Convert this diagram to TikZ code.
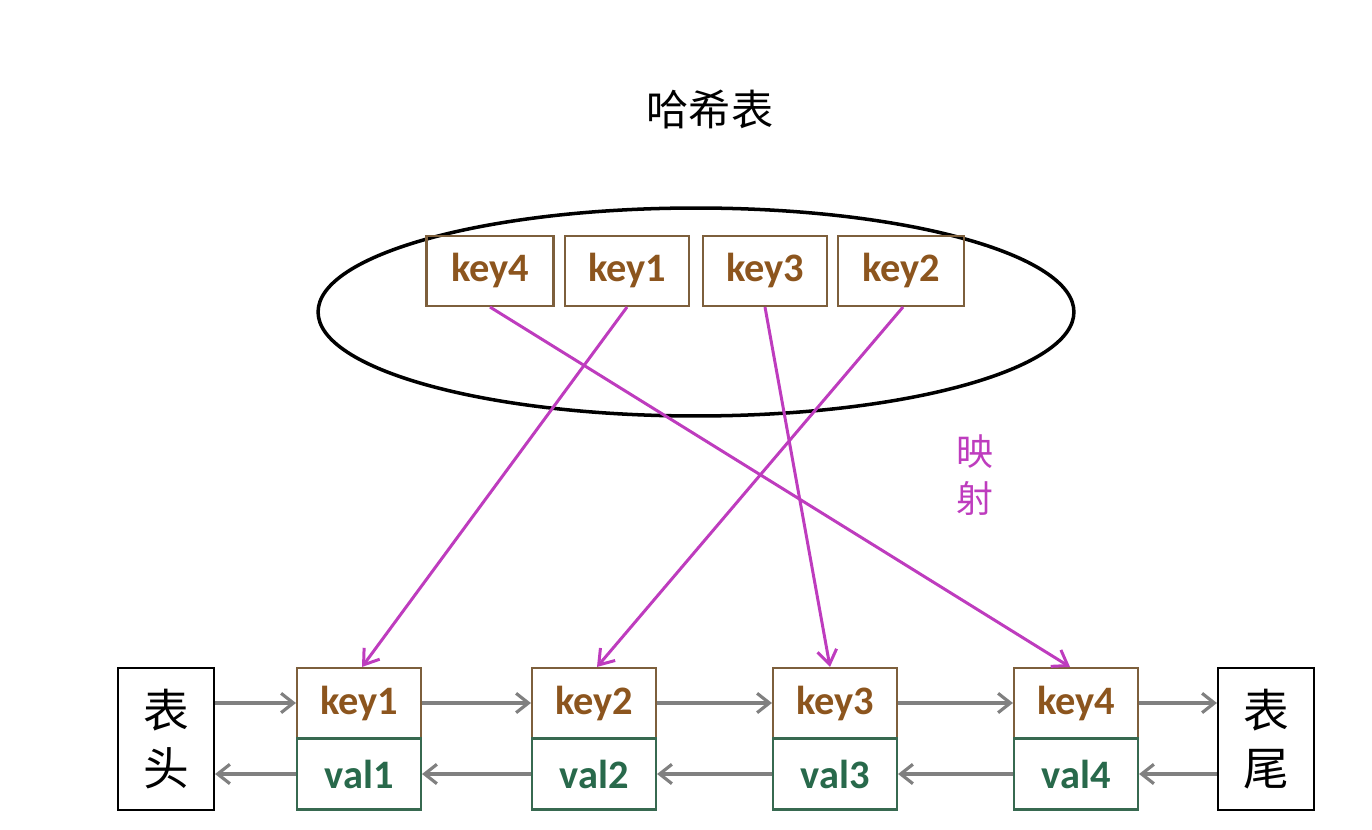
\documentclass[tikz,border=0pt]{standalone}
\usepackage{fontspec}
\setmainfont{Carlito}
\newfontfamily\cjk{Noto Sans CJK SC}
\usetikzlibrary{arrows.meta,shapes.geometric}
\definecolor{keybrown}{RGB}{140,85,30}
\definecolor{keyline}{RGB}{125,95,60}
\definecolor{valgreen}{RGB}{40,105,75}
\definecolor{valline}{RGB}{55,105,80}
\definecolor{mapmag}{RGB}{190,60,190}
\tikzset{
  keybox/.style={draw=keyline, line width=1.2pt, minimum width=2.48cm, minimum height=1.4cm,
    inner sep=0pt, text=keybrown, font=\fontsize{23}{26}\selectfont\bfseries},
  valbox/.style={draw=valline, line width=1.2pt, minimum width=2.48cm, minimum height=1.42cm,
    inner sep=0pt, text=valgreen, font=\fontsize{23}{26}\selectfont\bfseries},
  endbox/.style={draw, line width=1.2pt, minimum width=1.92cm, minimum height=2.84cm,
    inner sep=0pt, align=center, font=\cjk\fontsize{26}{33}\selectfont},
  link/.style={draw=gray, line width=1.8pt, -{Straight Barb[length=7pt,width=11pt]}},
  map/.style={draw=mapmag, line width=1.7pt, -{Straight Barb[length=8pt,width=11pt]}}
}
\begin{document}
\begin{tikzpicture}[x=0.02cm, y=-0.02cm]
  \useasboundingbox (0,0) rectangle (1372,830);
  % hash table
  \node[font=\cjk\fontsize{24}{28}\selectfont] (title) at (710,110) {哈希表};
  \node[draw, line width=2pt, ellipse, minimum width=15.12cm, minimum height=4.16cm] (table) at (696,312) {};
  \node[keybox, minimum width=2.54cm] (t4) at (490,271) {key4};
  \node[keybox] (t1) at (627,271) {key1};
  \node[keybox] (t3) at (765,271) {key3};
  \node[keybox, minimum width=2.52cm] (t2) at (901,271) {key2};
  % linked list
  \node[endbox] (head) at (166,739) {表\\头};
  \node[endbox] (tail) at (1266,739) {表\\尾};
  \node[keybox] (k1) at (359,703) {key1};
  \node[valbox] (v1) at (359,774) {val1};
  \node[keybox] (k2) at (594,703) {key2};
  \node[valbox] (v2) at (594,774) {val2};
  \node[keybox] (k3) at (835,703) {key3};
  \node[valbox] (v3) at (835,774) {val3};
  \node[keybox] (k4) at (1076,703) {key4};
  \node[valbox] (v4) at (1076,774) {val4};
  % forward links
  \draw[link] (head.east |- k1) -- (k1.west);
  \draw[link] (k1.east) -- (k2.west);
  \draw[link] (k2.east) -- (k3.west);
  \draw[link] (k3.east) -- (k4.west);
  \draw[link] (k4.east) -- (tail.west |- k4);
  % backward links
  \draw[link] (tail.west |- v4) -- (v4.east);
  \draw[link] (v4.west) -- (v3.east);
  \draw[link] (v3.west) -- (v2.east);
  \draw[link] (v2.west) -- (v1.east);
  \draw[link] (v1.west) -- (head.east |- v1);
  % mapping
  \draw[map] (t4.south) -- ([xshift=-0.12cm]k4.north);
  \draw[map] (t1.south) -- ([xshift=0.06cm]k1.north);
  \draw[map] (t3.south) -- ([xshift=-0.1cm]k3.north);
  \draw[map] ([xshift=0.04cm]t2.south) -- ([xshift=0.06cm]k2.north);
  \node[text=mapmag, align=center, font=\cjk\fontsize{21}{27}\selectfont] (maplabel) at (975,475) {映\\射};
\end{tikzpicture}
\end{document}
